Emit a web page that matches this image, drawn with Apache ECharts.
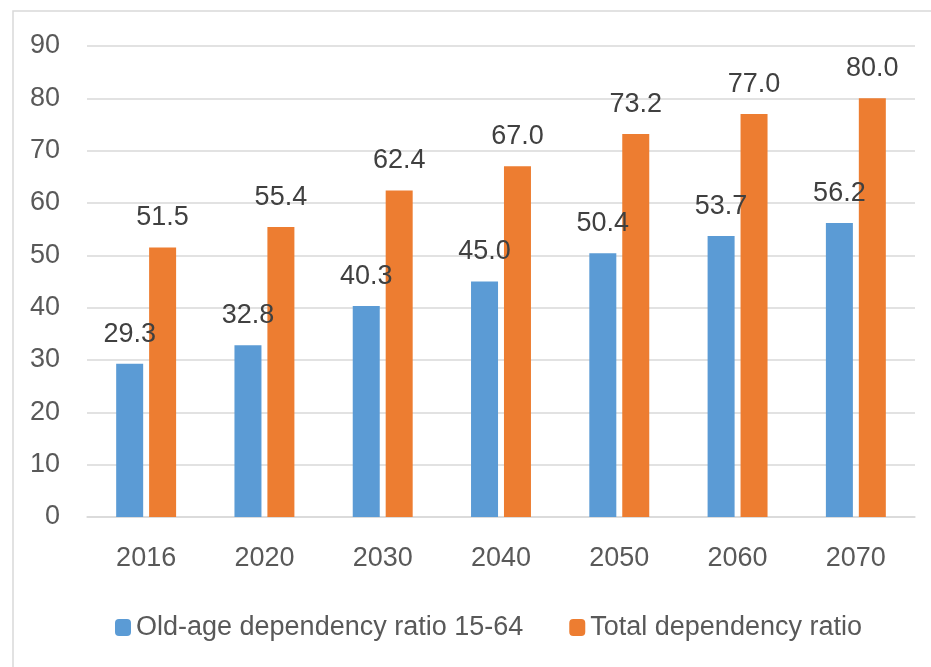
<!DOCTYPE html>
<html>
<head>
<meta charset="utf-8">
<script src="https://cdn.jsdelivr.net/npm/echarts@6/dist/echarts.min.js"></script>
<style>
html, body { margin: 0; padding: 0; background: #fff; }
#chart { width: 931px; height: 667px; }
</style>
</head>
<body>
<div id="chart"></div>
<script>
var years = ['2016', '2020', '2030', '2040', '2050', '2060', '2070'];
var oldAge = [29.3, 32.8, 40.3, 45.0, 50.4, 53.7, 56.2];
var total = [51.5, 55.4, 62.4, 67.0, 73.2, 77.0, 80.0];
var seriesNames = ['Old-age dependency ratio 15-64', 'Total dependency ratio'];

var font = 'Liberation Sans, Arial, sans-serif';
var chart = echarts.init(document.getElementById('chart'));

// label shown above each bar, one decimal
function barLabel() {
  return {
    show: true,
    position: 'top',
    distance: 16,
    color: '#404040',
    fontSize: 27,
    fontFamily: font,
    formatter: function (p) { return p.value.toFixed(1); }
  };
}

var option = {
  animation: false,
  graphic: [{
    type: 'rect',
    shape: { x: 13, y: 11, width: 940, height: 700 },
    style: { fill: 'none', stroke: '#d9d9d9', lineWidth: 1.5 },
    silent: true
  }],
  grid: { left: 87, right: 16, top: 46, bottom: 150 },
  legend: {
    left: 110,
    top: 609,
    itemWidth: 16,
    itemHeight: 17,
    itemGap: 46,
    textStyle: { color: '#595959', fontSize: 27, fontFamily: font },
    data: seriesNames
  },
  xAxis: {
    type: 'category',
    data: years,
    axisTick: { show: false },
    axisLine: { lineStyle: { color: '#d9d9d9', width: 1.5 } },
    axisLabel: { color: '#595959', fontSize: 27, fontFamily: font, margin: 28 }
  },
  yAxis: {
    type: 'value',
    min: 0,
    max: 90,
    interval: 10,
    axisLine: { show: false },
    axisTick: { show: false },
    axisLabel: { color: '#595959', fontSize: 27, fontFamily: font, margin: 27 },
    splitLine: { lineStyle: { color: '#d9d9d9', width: 1.5 } }
  },
  series: [
    {
      name: seriesNames[0],
      type: 'bar',
      data: oldAge,
      barWidth: 27,
      barGap: '22%',
      itemStyle: { color: '#5b9bd5' },
      label: barLabel()
    },
    {
      name: seriesNames[1],
      type: 'bar',
      data: total,
      barWidth: 27,
      itemStyle: { color: '#ed7d31' },
      label: barLabel()
    }
  ]
};

chart.setOption(option);
</script>
</body>
</html>
